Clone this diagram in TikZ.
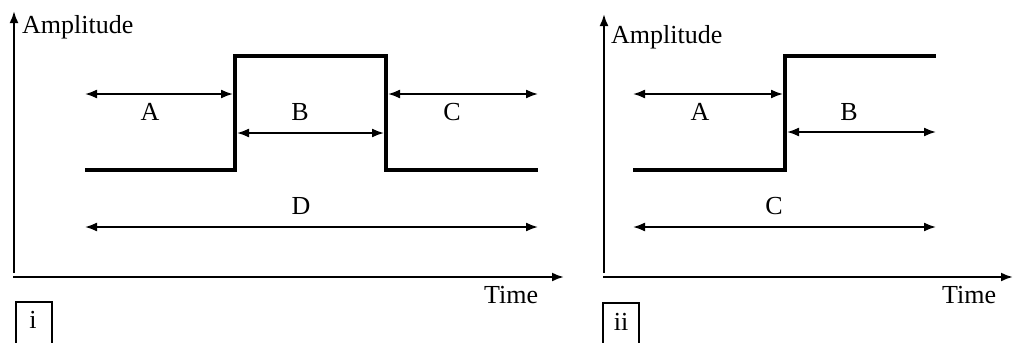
\documentclass[tikz,border=0pt]{standalone}
\usepackage{fontspec}
\setmainfont{Liberation Serif}
\usetikzlibrary{arrows.meta}
\begin{document}
\begin{tikzpicture}[x=1pt,y=-1pt,
  txt/.style={font=\fontsize{26}{31}\selectfont, inner sep=0pt},
  axis/.style={line width=2.2pt, -{Latex[length=12pt,width=9pt]}},
  sig/.style={line width=4.8pt, line join=miter, line cap=butt},
  dim/.style={line width=1.8pt, {Latex[length=12pt,width=9pt]}-{Latex[length=12pt,width=9pt]}},
  lbl/.style={line width=1.8pt}]
\useasboundingbox (0,0) rectangle (1013,343);
% ---------------- Panel i ----------------
\coordinate (yb1) at (14,273);
\coordinate (yt1) at (14,11);
\coordinate (xb1) at (13,277);
\coordinate (xt1) at (564,277);
\draw[axis] (yb1) -- (yt1);
\draw[axis] (xb1) -- (xt1);
\node[txt, anchor=base west] (amp1) at (22,33) {Amplitude};
\node[txt, anchor=base west] (time1) at (484,303) {Time};
\coordinate (s1a) at (85,170);
\coordinate (s1b) at (235,170);
\coordinate (s1c) at (235,56);
\coordinate (s1d) at (386,56);
\coordinate (s1e) at (386,170);
\coordinate (s1f) at (538,170);
\draw[sig] (s1a) -- (s1b) -- (s1c) -- (s1d) -- (s1e) -- (s1f);
\coordinate (a1l) at (85,94);
\coordinate (a1r) at (233,94);
\draw[dim] (a1l) -- (a1r);
\node[txt] (A1) at (150,112) {A};
\coordinate (b1l) at (237,133);
\coordinate (b1r) at (384,133);
\draw[dim] (b1l) -- (b1r);
\node[txt] (B1) at (300,112) {B};
\coordinate (c1l) at (388,94);
\coordinate (c1r) at (538,94);
\draw[dim] (c1l) -- (c1r);
\node[txt] (C1) at (452,112) {C};
\coordinate (d1l) at (85,227);
\coordinate (d1r) at (538,227);
\draw[dim] (d1l) -- (d1r);
\node[txt] (D1) at (301,206) {D};
\draw[lbl] (16,345) -- (16,302) -- (52,302) -- (52,345);
\node[txt, anchor=base] (i1) at (33,328) {i};
% ---------------- Panel ii ----------------
\coordinate (yb2) at (604,273);
\coordinate (yt2) at (604,14);
\coordinate (xb2) at (603,277);
\coordinate (xt2) at (1013,277);
\draw[axis] (yb2) -- (yt2);
\draw[axis] (xb2) -- (xt2);
\node[txt, anchor=base west] (amp2) at (611,43) {Amplitude};
\node[txt, anchor=base west] (time2) at (942,303) {Time};
\coordinate (s2a) at (633,170);
\coordinate (s2b) at (785,170);
\coordinate (s2c) at (785,56);
\coordinate (s2d) at (936,56);
\draw[sig] (s2a) -- (s2b) -- (s2c) -- (s2d);
\coordinate (a2l) at (633,94);
\coordinate (a2r) at (783,94);
\draw[dim] (a2l) -- (a2r);
\node[txt] (A2) at (700,112) {A};
\coordinate (b2l) at (787,132);
\coordinate (b2r) at (936,132);
\draw[dim] (b2l) -- (b2r);
\node[txt] (B2) at (849,112) {B};
\coordinate (c2l) at (633,227);
\coordinate (c2r) at (936,227);
\draw[dim] (c2l) -- (c2r);
\node[txt] (C2) at (774,206) {C};
\draw[lbl] (603,345) -- (603,303) -- (639,303) -- (639,345);
\node[txt, anchor=base] (i2) at (621,330) {ii};
\end{tikzpicture}
\end{document}
